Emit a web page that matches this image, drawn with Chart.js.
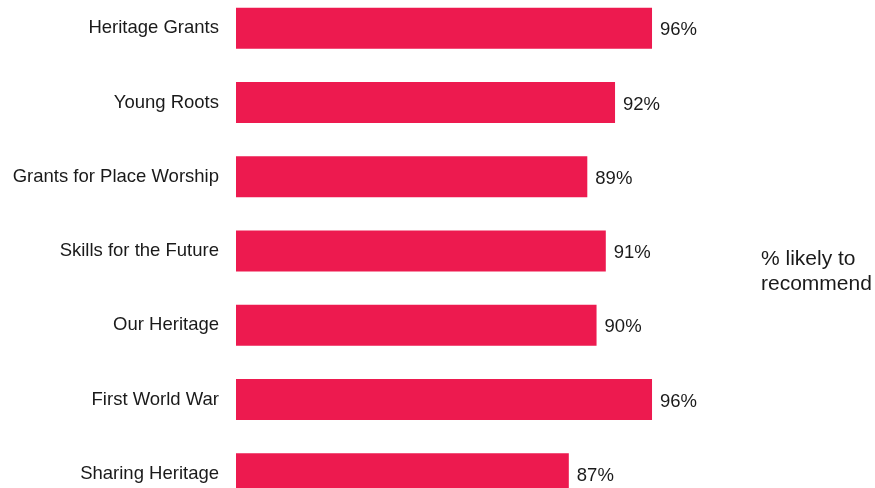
<!DOCTYPE html>
<html>
<head>
<meta charset="utf-8">
<script src="https://cdn.jsdelivr.net/npm/chart.js@4"></script>
<style>
  html, body { margin: 0; padding: 0; background: #fff; overflow: hidden; }
  body { width: 875px; height: 488px; position: relative; }
  #mycanvas { position: absolute; left: 0; top: -37px; }
  #note {
    position: absolute; left: 761px; top: 245px;
    font: 21px "Liberation Sans", Arial, sans-serif; color: #1a1a1a; line-height: 25px;
  }
</style>
</head>
<body>
<canvas id="mycanvas" width="875" height="576"></canvas>
<div id="note">% likely to<br>recommend</div>
<script>
var programmes = ['Heritage Grants', 'Young Roots', 'Grants for Place Worship', 'Skills for the Future',
                  'Our Heritage', 'First World War', 'Sharing Heritage'];
var recommend = [96, 92, 89, 91, 90, 96, 87];
var axisMin = 51;
var axisMax = 100;
var labelFont = '"Liberation Sans", Arial, sans-serif';

// writes "NN%" just past the end of each bar
var valueLabels = {
  id: 'valueLabels',
  afterDatasetsDraw: function(chart) {
    var ctx = chart.ctx;
    var meta = chart.getDatasetMeta(0);
    ctx.save();
    ctx.font = '18.5px ' + labelFont;
    ctx.fillStyle = '#1a1a1a';
    ctx.textAlign = 'left';
    ctx.textBaseline = 'middle';
    meta.data.forEach(function(bar, i) {
      ctx.fillText(recommend[i] + '%', bar.x + 8, bar.y + 2);
    });
    ctx.restore();
  }
};

var ctx = document.getElementById('mycanvas');
var barGraph = new Chart(ctx, {
  type: 'bar',
  data: {
    labels: programmes,
    datasets: [{
      label: '% likely to recommend',
      data: recommend,
      backgroundColor: '#ED1A4F',
      borderWidth: 0,
      barPercentage: 0.55,
      categoryPercentage: 1
    }]
  },
  options: {
    indexAxis: 'y',
    responsive: false,
    animation: false,
    layout: { padding: { left: 0, right: 186, top: 0, bottom: 0 } },
    plugins: {
      legend: { display: false },
      tooltip: { enabled: false }
    },
    scales: {
      x: {
        display: false,
        min: axisMin,
        max: axisMax
      },
      y: {
        grid: { display: false, drawTicks: false },
        border: { display: false },
        ticks: {
          padding: 17,
          color: '#1a1a1a',
          font: { family: labelFont, size: 18.5 }
        },
        afterFit: function(scale) { scale.width = 236; }
      }
    }
  },
  plugins: [valueLabels]
});
</script>
</body>
</html>
